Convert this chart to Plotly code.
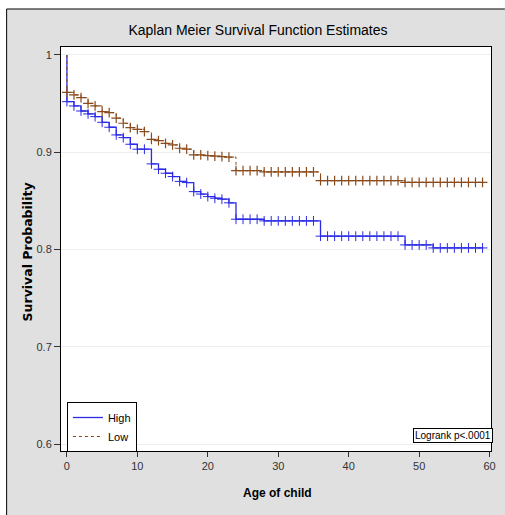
import plotly.graph_objects as go

# ---- data ----
months = list(range(0, 60))
high_surv = [0.952, 0.9476, 0.9424, 0.9394, 0.9366, 0.9308, 0.9257, 0.9178, 0.915, 0.9082,
             0.9031, 0.9031, 0.888, 0.8825, 0.8784, 0.875, 0.870, 0.8688, 0.8595, 0.857,
             0.8544, 0.8527, 0.8517, 0.848, 0.8311, 0.8311, 0.8311, 0.8311, 0.8294, 0.8294,
             0.8294, 0.8294, 0.8294, 0.8294, 0.8294, 0.8294, 0.8137, 0.8137, 0.8137, 0.8137,
             0.8137, 0.8137, 0.8137, 0.8137, 0.8137, 0.8137, 0.8137, 0.8137, 0.8047, 0.8047,
             0.8047, 0.8047, 0.8016, 0.8016, 0.8016, 0.8016, 0.8016, 0.8016, 0.8016, 0.8016]
low_surv = [0.9616, 0.9589, 0.9561, 0.9503, 0.9476, 0.9417, 0.9407, 0.935, 0.9298, 0.9253,
            0.9236, 0.9212, 0.9133, 0.9119, 0.9092, 0.9075, 0.9041, 0.9031, 0.8972, 0.8972,
            0.8966, 0.896, 0.8955, 0.895, 0.8811, 0.8811, 0.8811, 0.8811, 0.8797, 0.8797,
            0.8797, 0.8797, 0.8797, 0.8797, 0.8797, 0.8797, 0.8708, 0.8708, 0.8708, 0.8708,
            0.8708, 0.8708, 0.8708, 0.8708, 0.8708, 0.8708, 0.8708, 0.8708, 0.869, 0.869,
            0.869, 0.869, 0.869, 0.869, 0.869, 0.869, 0.869, 0.869, 0.869, 0.869]
x_ticks = [0, 10, 20, 30, 40, 50, 60]
y_ticks = [0.6, 0.7, 0.8, 0.9, 1.0]
series_names = ["High", "Low"]
title_text = "Kaplan Meier Survival Function Estimates"
x_label = "Age of child"
y_label = "Survival Probability"
logrank_text = "Logrank p<.0001"

BLUE = "#2b2be6"
BROWN = "#8b4a1c"
NARROW = "Liberation Sans Narrow, Arial Narrow, Liberation Sans, Arial, sans-serif"
SANS = "Liberation Sans, Arial, sans-serif"

fig = go.Figure()

# step lines (start at survival 1 at time 0)
fig.add_trace(go.Scatter(x=[0] + months, y=[1.0] + high_surv, mode="lines",
                         line=dict(color=BLUE, width=1.3, shape="hv"),
                         name=series_names[0]))
fig.add_trace(go.Scatter(x=[0] + months, y=[1.0] + low_surv, mode="lines",
                         line=dict(color=BROWN, width=1, shape="hv", dash="dot"),
                         name=series_names[1]))
# censoring marks
fig.add_trace(go.Scatter(x=months, y=high_surv, mode="markers", showlegend=False,
                         marker=dict(symbol="cross-thin", size=7,
                                     line=dict(color=BLUE, width=1))))
fig.add_trace(go.Scatter(x=months, y=low_surv, mode="markers", showlegend=False,
                         marker=dict(symbol="cross-thin", size=7,
                                     line=dict(color=BROWN, width=1.2))))

L, R, T, B = 61, 9, 47, 64
W, H = 505, 515
pw, ph = W - L - R, H - T - B


def px_x(p):
    return (p - L) / pw


def px_y(p):
    return (H - B - p) / ph


fig.update_layout(
    width=W, height=H,
    margin=dict(l=L, r=R, t=T, b=B),
    paper_bgcolor="#e0e0e0",
    plot_bgcolor="white",
    title=dict(text=title_text, x=258 / W, xanchor="center",
               y=1 - 30 / H, yanchor="middle",
               font=dict(family=NARROW, size=14, color="black")),
    xaxis=dict(range=[-0.84, 60.2], tickvals=x_ticks, ticks="outside", ticklen=5,
               tickcolor="#333", showgrid=False, zeroline=False,
               showline=True, linecolor="black", linewidth=1, mirror=True,
               tickfont=dict(family=NARROW, size=11, color="#333")),
    yaxis=dict(range=[0.5928, 1.0082], tickvals=y_ticks, ticks="outside", ticklen=6,
               tickcolor="#333", showgrid=True, gridcolor="#eeeeee", gridwidth=1,
               zeroline=False, showline=True, linecolor="black", linewidth=1, mirror=True,
               tickfont=dict(family=NARROW, size=11, color="#333")),
    legend=dict(x=px_x(67), y=px_y(427), xanchor="left", yanchor="middle",
                bgcolor="white", bordercolor="black", borderwidth=1,
                font=dict(family=NARROW, size=11, color="black"),
                tracegroupgap=0, itemwidth=30),
    showlegend=True,
    annotations=[
        dict(text=logrank_text, xref="paper", yref="paper", x=px_x(498), y=px_y(443),
             xanchor="right", yanchor="bottom", showarrow=False,
             bordercolor="black", borderwidth=1, borderpad=1, bgcolor="white",
             font=dict(family=NARROW, size=10, color="black")),
        dict(text="<b>" + x_label + "</b>", xref="paper", yref="paper",
             x=px_x(280), y=px_y(493), xanchor="center", yanchor="middle",
             showarrow=False, font=dict(family=SANS, size=12, color="black")),
        dict(text="<b>" + y_label + "</b>", xref="paper", yref="paper",
             x=px_x(27), y=px_y(252), xanchor="center", yanchor="middle",
             textangle=-90, showarrow=False,
             font=dict(family="DejaVu Sans, sans-serif", size=12.5, color="black")),
    ],
    shapes=[
        # white strips outside the black frame (top and left)
        dict(type="rect", xref="paper", yref="paper", x0=px_x(-5), x1=px_x(W + 5),
             y0=px_y(9), y1=px_y(-5), fillcolor="white", line=dict(width=0), layer="above"),
        dict(type="rect", xref="paper", yref="paper", x0=px_x(-5), x1=px_x(6),
             y0=px_y(H + 5), y1=px_y(-5), fillcolor="white", line=dict(width=0), layer="above"),
        # black outer frame lines
        dict(type="line", xref="paper", yref="paper", x0=px_x(6), x1=px_x(W + 5),
             y0=px_y(9), y1=px_y(9), line=dict(color="black", width=1)),
        dict(type="line", xref="paper", yref="paper", x0=px_x(6), x1=px_x(6),
             y0=px_y(9), y1=px_y(H + 5), line=dict(color="black", width=1)),
    ],
)

fig.write_html("out.html", config={"displayModeBar": False},
               post_script="document.body.style.margin='0px';document.body.style.overflow='hidden';")
